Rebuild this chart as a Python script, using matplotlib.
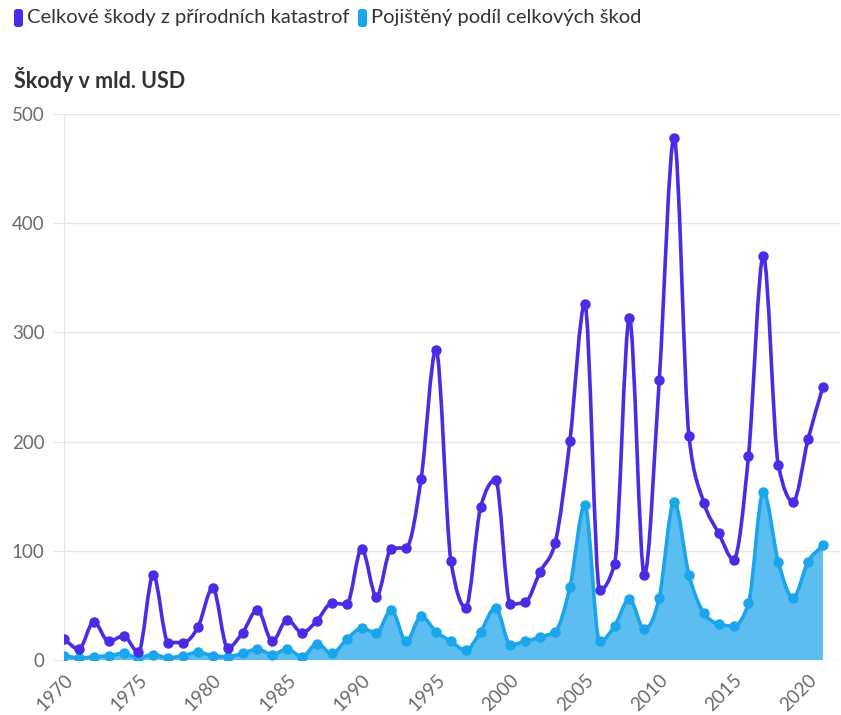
import matplotlib
matplotlib.use("Agg")
import matplotlib.pyplot as plt
import numpy as np
from matplotlib.path import Path
from matplotlib.patches import PathPatch, FancyBboxPatch

years = list(range(1970, 2022))
total = [19, 10, 35, 17, 22, 7, 78, 16, 16, 30,
         66, 11, 25, 46, 17, 37, 25, 36, 52, 51,
         102, 58, 102, 103, 166, 284, 91, 48, 140, 165,
         51, 53, 81, 107, 201, 326, 64, 88, 313, 78,
         256, 478, 205, 144, 116, 92, 187, 370, 179, 145,
         202, 250]
insured = [4, 2, 3, 4, 6, 2, 5, 2, 4, 7,
           4, 3, 6, 10, 5, 10, 3, 15, 6, 19,
           29, 25, 46, 17, 40, 26, 17, 9, 26, 48,
           14, 17, 21, 26, 67, 142, 17, 31, 56, 28,
           57, 145, 78, 43, 33, 31, 52, 154, 90, 57,
           90, 105]
labels = ["Celkové škody z přírodních katastrof", "Pojištěný podíl celkových škod"]
ylabel = "Škody v mld. USD"

C_TOTAL = "#4a2be6"
C_INS = "#1ba6ec"
C_FILL = "#5bbdf0"
GRAY = "#6b6b6b"

plt.rcParams["font.family"] = ["Lato", "DejaVu Sans"]


def monotone_verts(x, y):
    """Monotone cubic (Fritsch-Carlson) as bezier path vertices/codes."""
    x = np.asarray(x, float)
    y = np.asarray(y, float)
    h = np.diff(x)
    s = np.diff(y) / h
    m = np.zeros_like(y)
    for i in range(1, len(y) - 1):
        if s[i - 1] * s[i] > 0:
            p = (s[i - 1] * h[i] + s[i] * h[i - 1]) / (h[i - 1] + h[i])
            m[i] = np.sign(s[i]) * min(2 * abs(s[i - 1]), 2 * abs(s[i]), abs(p))
    m[0] = s[0]
    m[-1] = s[-1]
    verts = [(x[0], y[0])]
    codes = [Path.MOVETO]
    for i in range(len(x) - 1):
        d = h[i] / 3
        verts += [(x[i] + d, y[i] + m[i] * d),
                  (x[i + 1] - d, y[i + 1] - m[i + 1] * d),
                  (x[i + 1], y[i + 1])]
        codes += [Path.CURVE4] * 3
    return verts, codes


fig = plt.figure(figsize=(8.41, 7.15), dpi=100)
ax = fig.add_axes([64 / 841, 55 / 715, (840 - 64) / 841, (660 - 114) / 715])

# insured area
v, c = monotone_verts(years, insured)
fv = v + [(years[-1], 0), (years[0], 0), (years[0], insured[0])]
fc = c + [Path.LINETO, Path.LINETO, Path.CLOSEPOLY]
ax.add_patch(PathPatch(Path(fv, fc), facecolor=C_FILL, edgecolor="none", zorder=2))
ax.add_patch(PathPatch(Path(v, c), facecolor="none", edgecolor=C_INS, lw=2.6, zorder=3))
ax.plot(years, insured, "o", color=C_INS, ms=6.5, zorder=4)

# total line
v, c = monotone_verts(years, total)
ax.add_patch(PathPatch(Path(v, c), facecolor="none", edgecolor=C_TOTAL, lw=2.6, zorder=5))
ax.plot(years, total, "o", color=C_TOTAL, ms=6.5, zorder=6)

ax.set_xlim(1970, 2022.15)
ax.set_ylim(0, 500)
ax.set_yticks(range(0, 501, 100))
ax.set_xticks(range(1970, 2021, 5))
ax.set_xticklabels([str(t) for t in range(1970, 2021, 5)], rotation=45,
                   ha="right", rotation_mode="anchor")
ax.grid(axis="y", color="#e6e6e6", lw=1)
ax.set_axisbelow(True)
for sp in ["top", "right", "bottom"]:
    ax.spines[sp].set_visible(False)
ax.spines["left"].set_color("#e6e6e6")
ax.tick_params(axis="y", length=8, color="#e6e6e6", labelcolor=GRAY, labelsize=13.5, pad=6)
ax.tick_params(axis="x", length=0, labelcolor=GRAY, labelsize=13.5, pad=8)

fig.text(14 / 841, 1 - 80 / 715, ylabel, fontsize=15.5, fontweight="bold",
         color="#333333", va="center", ha="left")

# legend
items = [(14, labels[0], C_TOTAL), (358, labels[1], C_INS)]
for x0, txt, col in items:
    fig.patches.append(FancyBboxPatch((x0 / 841, 1 - 27 / 715), 9 / 841, 18 / 715,
                                      boxstyle="round,pad=0,rounding_size=0.004",
                                      transform=fig.transFigure, facecolor=col,
                                      edgecolor="none"))
    fig.text((x0 + 13) / 841, 1 - 18 / 715, txt, fontsize=14.5, color="#333333",
             va="center", ha="left")

fig.savefig("out.png", dpi=100)
